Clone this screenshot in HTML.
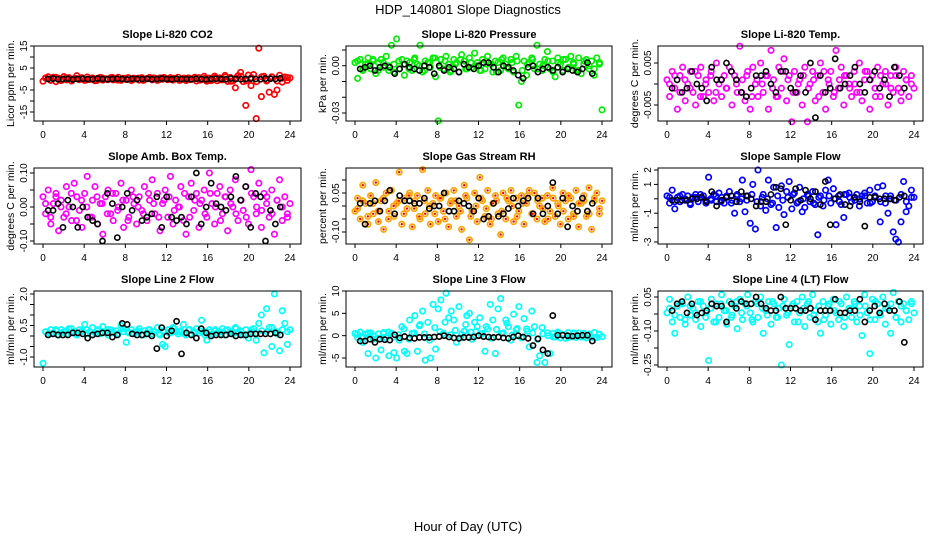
<!DOCTYPE html>
<html><head><meta charset="utf-8"><style>
html,body{margin:0;padding:0;background:#fff;}
svg{display:block;font-family:"Liberation Sans",sans-serif;}
</style></head><body>
<svg id="chart" width="936" height="540" viewBox="0 0 936 540" xmlns="http://www.w3.org/2000/svg">
<text x="468" y="14" text-anchor="middle" font-size="13">HDP_140801  Slope Diagnostics</text>
<text x="468" y="531" text-anchor="middle" font-size="13">Hour of Day (UTC)</text>
</svg>
<script>
const hourTicks=[0,4,8,12,16,20,24];
const co2Color=[-1,0.5,1,-0.5,0.8,-1.2,0.3,-0.7,1.1,-0.4,0.6,-0.9,0.2,1.5,-0.3,0.4,-0.6,0.9,-0.2,0.5,-0.8,0.3,0.7,-0.5,0.1,-0.3,0.6,-0.4,0.2,0.8,-0.6,0.3,-0.2,0.5,-0.7,0.4,0.1,-0.5,0.6,-0.3,0.2,0.7,-0.4,0.3,-0.6,0.5,-0.1,0.4,-0.3,0.6,-0.5,0.2,0.8,-0.4,0.3,-0.7,0.5,-0.2,0.4,-0.9,0.6,-0.3,1.2,-1.0,0.4,-0.6,1.3,-0.8,0.5,-0.4,1.6,-1.1,0.7,-0.9,-4,1.5,3,-1.2,-12,1.8,-3,2,-18,14,-8,1.2,-0.9,-6,1,-7,-5,1.7,-1.4,0.9,-0.6,0.5];
const co2Core=[0.4,-0.6,0.8,-0.3,0.5,-0.8,0.2,0.6,-0.4,0.3,-0.7,0.5,-0.2,0.7,-0.5,0.1,0.6,-0.3,0.4,-0.6,0.2,0.5,-0.4,0.7,-0.1,0.3,-0.6,0.4,-0.2,0.8,-0.5,0.3,-0.7,0.6,-0.3,0.9,-1.0,0.5,1.2,-0.8,0.6,-1.2,1.0,-0.5,0.8,-0.9,0.4,0.6];
const co2Black=[0,0.2,-0.1,0,0.1,-0.2,0,0.1,0,-0.1,0.2,0,-0.1,0,0.1,0,-0.2,0.1,0,0,0.1,-0.1,0,0.2,0,-0.1,0.1,0,0,-0.1,0.1,0,-0.2,0,0.1,0,-0.1,0.2,0,-0.1,0,0.1,0,-0.1,0.2,0.1,0,0.3];
const presColor=[0.002,-0.008,0.004,-0.003,0.001,0.005,-0.002,0.003,-0.005,0.002,0.004,-0.001,0.006,-0.003,0.013,0.001,0.017,-0.002,0.004,-0.006,0.003,0.002,-0.003,0.005,0.001,0.013,-0.004,0.003,0.002,-0.001,0.005,-0.007,-0.035,0.004,-0.002,0.006,0.001,-0.003,0.004,0.002,-0.004,0.007,0.003,-0.002,0.005,-0.001,0.008,0.002,-0.003,0.004,-0.002,0.006,0.001,-0.004,0.003,0.002,-0.003,0.005,0.001,-0.002,0.004,-0.004,0.006,-0.025,-0.01,0.003,-0.006,0.002,0.005,-0.002,0.013,0.001,-0.003,0.004,0.009,-0.002,0.003,-0.007,0.005,0.001,-0.003,0.004,-0.002,0.006,0.002,-0.003,0.005,-0.005,0.001,0.004,-0.002,0.003,-0.006,0.005,0.001,-0.028];
const presCore=[0.003,-0.002,0.001,0.004,-0.003,0.002,0.000,-0.004,0.003,0.001,-0.002,0.004,0.000,-0.003,0.002,0.005,-0.001,0.003,-0.004,0.001,0.004,-0.002,0.002,0.000,-0.003,0.003,0.001,-0.004,0.004,-0.001,0.002,0.003,-0.003,0.001,0.004,-0.002,0.000,0.003,-0.004,0.002,0.004,-0.001,0.001,-0.003,0.003,0.000,-0.002,0.002];
const presBlack=[-0.002,-0.001,0.000,-0.003,-0.001,0.000,-0.001,-0.005,-0.002,0.001,-0.001,-0.002,-0.003,0.000,-0.001,-0.005,0.000,-0.003,-0.001,-0.002,-0.004,0.001,-0.001,-0.002,0.000,0.002,0.002,-0.001,-0.004,0.000,-0.001,-0.003,-0.006,-0.008,-0.001,0.000,-0.004,-0.002,-0.001,-0.003,-0.001,-0.004,-0.002,-0.003,-0.004,-0.002,0.002,-0.005];
const tempColor=[0.001,-0.003,0.003,-0.001,-0.006,0.002,0.004,-0.004,0.000,0.003,-0.002,-0.005,0.002,0.004,-0.003,0.001,-0.002,0.003,-0.004,0.005,0.000,-0.003,0.002,-0.001,0.004,-0.005,0.002,-0.002,0.009,0.001,-0.004,0.003,-0.006,0.004,0.000,-0.003,0.005,-0.002,0.002,-0.006,0.008,0.001,-0.003,0.004,-0.001,0.006,-0.004,0.002,-0.009,0.003,-0.002,0.001,-0.005,0.004,-0.009,0.000,0.003,-0.004,0.002,0.005,-0.002,-0.006,0.001,0.003,-0.003,0.008,-0.001,0.004,-0.005,0.002,0.000,-0.003,0.003,-0.002,0.005,-0.004,0.001,0.003,-0.006,0.002,-0.001,0.004,-0.003,0.000,0.003,-0.005,0.002,-0.002,0.004,-0.001,-0.004,0.003,0.001,-0.003,0.002,-0.001];
const tempCore=[0.000,0.002,-0.002,0.001,-0.001,0.003,-0.003,0.000,0.002,-0.002,0.001,-0.001,0.003,0.000,-0.002,0.002,-0.003,0.001,0.000,0.002,-0.001,-0.003,0.003,0.001,-0.002,0.000,0.002,-0.001,0.001,-0.003,0.003,0.000,-0.002,0.001,0.002,-0.001,0.000,-0.002,0.003,0.001,-0.003,0.002,0.000,-0.001,0.002,-0.002,0.001,0.000];
const tempBlack=[-0.001,0.001,-0.002,-0.001,0.003,0.000,-0.001,-0.004,0.004,0.001,0.001,0.005,0.003,0.001,-0.002,-0.003,-0.001,0.002,0.002,0.003,0.000,-0.002,0.003,0.003,-0.001,-0.002,0.002,-0.002,0.005,-0.008,0.002,-0.002,-0.001,0.006,-0.001,0.000,0.002,0.004,0.000,-0.002,0.001,0.003,-0.001,0.001,-0.003,0.004,0.002,-0.001];
const ambColor=[0.03,-0.02,0.05,-0.05,0.01,0.04,-0.07,0.02,-0.03,0.06,0.00,-0.04,0.07,0.03,-0.01,-0.06,0.04,0.09,-0.03,0.02,0.06,-0.05,0.01,-0.08,0.03,0.05,-0.02,-0.04,0.04,0.00,0.07,-0.06,0.02,-0.03,0.05,0.01,-0.05,0.03,-0.01,0.06,-0.04,0.02,0.08,-0.02,0.04,-0.07,0.01,0.05,-0.03,0.09,-0.05,0.02,0.00,0.06,-0.04,-0.08,0.03,0.07,-0.01,0.04,-0.06,0.02,0.05,-0.03,0.10,0.01,-0.05,0.04,0.06,-0.02,0.03,-0.07,0.05,0.00,0.08,-0.04,0.02,-0.01,0.06,-0.05,0.11,0.03,-0.02,0.07,-0.06,0.04,0.01,-0.03,0.05,-0.08,0.02,0.08,-0.04,0.03,-0.02,0.01];
const ambCore=[0.01,-0.03,0.03,0.00,-0.02,0.04,-0.04,0.02,0.00,-0.03,0.03,0.01,-0.02,0.04,-0.01,0.02,-0.04,0.03,0.00,-0.02,0.04,0.01,-0.03,0.02,0.03,-0.01,0.00,0.04,-0.03,0.02,0.01,-0.02,0.04,0.00,-0.04,0.03,0.01,-0.02,0.02,-0.03,0.04,0.00,-0.01,0.03,-0.02,0.02,0.00,-0.03];
const ambBlack=[-0.01,-0.01,0.01,-0.06,0.02,0.00,-0.06,0.00,-0.03,-0.04,-0.05,-0.10,0.04,0.01,-0.09,0.00,0.04,-0.01,0.02,-0.04,-0.03,-0.02,0.03,-0.06,0.03,-0.03,-0.04,-0.03,-0.05,0.03,0.10,-0.05,0.00,0.07,0.01,0.00,-0.01,0.03,0.09,0.02,0.06,-0.06,0.04,0.03,-0.10,-0.01,-0.05,0.00];
const rhColor=[-0.02,0.03,-0.05,0.08,0.01,-0.07,0.04,-0.03,0.09,-0.06,0.02,-0.09,0.05,-0.02,0.06,-0.04,0.01,0.13,-0.07,0.03,-0.01,0.05,-0.08,0.02,0.04,-0.05,0.14,-0.03,0.06,-0.07,0.01,0.04,-0.06,0.03,-0.02,0.05,-0.08,0.02,0.06,-0.04,0.00,-0.09,0.08,0.03,-0.13,-0.02,0.05,-0.06,0.11,0.02,-0.04,0.06,-0.07,0.01,0.04,-0.03,-0.11,0.05,-0.05,0.02,0.06,-0.06,0.03,-0.02,0.04,-0.07,0.01,0.06,-0.03,0.05,-0.05,0.00,0.03,-0.06,0.04,-0.02,0.07,-0.04,0.01,-0.07,0.05,0.02,-0.05,0.03,-0.03,0.06,-0.08,0.01,0.04,-0.04,0.07,-0.09,0.02,0.05,-0.03,0.02];
const rhCore=[-0.01,0.02,-0.04,0.01,-0.02,0.03,-0.05,0.00,0.02,-0.03,0.04,-0.01,-0.04,0.02,0.00,-0.03,0.03,-0.05,0.01,0.02,-0.02,0.04,-0.04,0.00,0.03,-0.01,-0.05,0.02,-0.02,0.03,0.00,-0.04,0.01,0.04,-0.03,0.02,-0.01,-0.05,0.03,0.00,-0.02,0.04,-0.04,0.01,0.02,-0.03,0.03,-0.01];
const rhBlack=[0.01,-0.07,0.01,0.02,-0.02,0.02,0.06,-0.03,0.04,0.02,0.02,0.01,0.01,0.03,-0.01,0.00,0.00,0.05,-0.02,-0.02,0.02,0.01,0.00,-0.02,0.03,-0.05,-0.04,0.01,-0.04,-0.03,-0.01,0.03,0.00,0.02,0.03,-0.03,0.03,-0.03,0.00,0.09,-0.03,0.03,-0.08,0.00,-0.02,0.03,-0.02,0.01];
const flowColor=[0.2,-0.3,0.6,-0.7,0.1,-0.2,0.3,-0.1,0.2,-0.4,0.1,0.3,-0.2,0.1,0.2,-0.3,1.5,-0.1,0.3,-0.2,0.4,0.1,-0.3,0.2,0.5,-0.1,-1.0,0.3,-0.2,1.3,-0.9,0.2,-1.7,1.0,-2.1,2.0,-0.5,0.3,-0.8,1.3,-0.4,0.8,-2.0,-0.6,0.9,-1.1,0.5,1.2,-0.7,0.4,-0.3,0.8,-0.9,-0.6,0.3,-0.2,0.5,-0.4,-2.5,0.2,-0.5,0.6,1.3,-0.3,0.7,-1.8,0.2,-0.4,-1.3,0.3,0.4,-0.2,0.1,0.3,-0.5,0.2,0.4,-0.3,0.6,-0.2,0.2,0.8,-1.6,0.9,-0.3,-1.0,0.2,-2.3,-2.8,-3.0,-1.6,1.2,-0.9,-0.5,0.6,0.1];
const flowCore=[0.1,-0.2,0.2,0.0,-0.3,0.1,0.3,-0.1,0.0,0.2,-0.2,0.1,-0.3,0.2,0.0,-0.1,0.3,-0.2,0.1,0.0,-0.3,0.2,-0.1,0.1,0.3,-0.2,0.0,0.2,-0.3,0.1,-0.1,0.2,0.0,-0.2,0.3,0.1,-0.1,0.0,0.2,-0.3,0.1,-0.2,0.2,0.0,-0.1,0.3,-0.2,0.1];
const flowBlack=[-0.1,-0.1,-0.1,-0.1,0.0,0.0,0.1,-0.2,0.5,-0.5,-0.1,0.1,0.2,-0.2,0.5,0.2,0.0,-0.5,-0.2,-0.2,0.3,0.8,0.7,-1.8,-0.1,0.7,-0.1,0.6,0.0,0.5,-0.4,1.2,-1.8,0.0,0.3,-0.4,-0.5,0.1,-0.2,-1.9,0.1,0.1,0.0,0.0,0.0,-0.1,0.1,0.2];
const line2Color=[-1.3,0.2,0.1,0.3,0.15,0.25,0.05,0.3,0.2,0.1,0.35,0.15,0.2,0.05,0.3,0.25,0.55,0.1,0.2,0.4,0.15,0.3,0.1,0.45,0.2,0.05,0.3,0.15,0.25,0.1,0.5,0.2,-0.3,0.15,0.3,0.1,0.2,0.35,0.05,0.25,0.15,0.3,0.1,0.2,0.4,0.05,-0.4,-0.5,0.3,0.15,0.4,0.2,0.1,0.25,0.55,0.05,0.3,0.1,0.2,0.35,0.15,0.75,0.2,-0.2,0.3,0.1,0.25,0.15,0.2,0.35,0.05,0.3,0.2,0.1,0.4,0.15,0.25,0.05,0.3,-0.1,0.2,0.35,-0.2,0.6,1.0,-0.8,1.3,0.4,-0.5,2.0,0.2,-0.7,1.2,0.6,-0.4,0.3];
const line2Core=[0.2,0.1,0.3,0.15,0.25,0.35,0.1,0.2,0.3,0.05,0.25,0.15,0.3,0.2,0.1,0.35,0.2,0.15,0.25,0.05,0.3,0.2,0.1,0.25,0.15,0.35,0.2,0.1,0.3,0.15,0.25,0.05,0.2,0.3,0.1,0.25,0.15,0.35,0.2,0.05,0.3,0.1,0.25,0.2,0.4,0.1,0.3,0.2];
const line2Black=[0.05,0.1,0.05,0.05,0.05,0.15,0.15,0.1,-0.1,0.05,0.1,0.15,0.15,-0.05,0.05,0.6,0.55,0.1,0.05,0.05,0.1,0.0,-0.6,0.4,0.0,0.25,0.7,-0.85,0.15,0.05,-0.1,0.35,0.15,0.0,0.05,0.05,0.05,0.1,0.0,0.05,0.05,0.1,0.1,0.1,0.1,0.1,0.15,0.05];
const line3Color=[0.5,-0.5,0.8,-1.5,0.3,-4,0.6,-0.8,-5,0.4,-3.2,0.7,-0.5,-4.5,0.5,-3.8,-5,-1,2,-3.5,-4,3.5,0.5,4.5,-3.5,2.5,5.5,-5.5,3,-5,7,-3,6,8,0.5,9.5,4,5.5,3.5,-1.5,6.5,0.3,1,4.5,5,-0.8,3,2,4,0.5,-3.5,1.5,7,3.5,-4,6,8.3,0.6,3.5,2,-1,4.8,1.3,6.5,-0.5,3.8,1.5,-2.5,5.5,2,-6,-4.5,1.8,-6,0.6,-4,0.5,-0.3,0.8,-0.5,0.3,-0.6,0.7,-0.2,0.4,-0.4,0.6,-0.3,0.5,-0.5,0.2,-0.3,0.7,-0.4,0.3,-0.2];
const line3Core=[0.3,-0.4,0.6,0.0,-0.6,0.5,0.8,-0.3,0.2,1.5,-0.8,0.6,2.2,0.4,-1.0,1.8,0.9,3.0,0.2,1.2,-0.5,2.5,0.8,1.0,0.3,2.0,-0.6,1.4,0.5,2.8,0.1,1.6,-0.4,1.0,0.6,-0.8,0.4,0.0,-0.3,0.5,0.2,-0.4,0.6,0.0,-0.2,0.4,-0.5,0.3];
const line3Black=[-1.2,-1.2,-0.8,-1.5,-0.8,-0.9,-1,0.2,-0.5,-0.2,-0.5,-0.6,-0.4,-0.4,-0.4,-0.3,-0.2,0.0,-0.3,-0.5,-0.6,-0.4,-0.4,-0.3,0.0,-0.2,-0.3,-0.4,-0.3,-0.5,-0.6,-0.3,0.0,-0.3,-0.6,-2.2,-0.7,-3.2,-4,4.5,0.1,0.1,0.0,-0.1,0.0,0.1,0.1,-1.2];
const line4Color=[-0.02,0.04,-0.06,-0.11,0.01,-0.04,0.02,-0.07,0.05,-0.03,0.00,-0.05,0.03,-0.08,0.01,-0.02,-0.23,0.04,-0.06,0.02,-0.04,0.06,-0.01,-0.07,0.03,-0.03,0.01,-0.09,0.04,-0.05,0.02,0.06,-0.02,-0.06,0.03,-0.04,0.05,-0.11,-0.01,0.03,-0.07,0.02,-0.04,0.00,-0.25,0.04,-0.03,-0.16,0.01,-0.06,0.03,-0.02,0.05,-0.08,0.02,-0.04,0.06,-0.01,-0.06,-0.11,0.03,-0.03,0.01,-0.07,0.04,-0.02,-0.05,0.02,-0.08,0.05,0.00,-0.04,0.03,-0.06,0.01,-0.12,0.06,-0.02,-0.20,0.04,-0.05,0.02,-0.03,0.05,-0.07,0.00,-0.11,0.07,-0.04,0.03,-0.06,0.02,-0.01,-0.05,0.03,-0.02];
const line4Core=[0.00,-0.03,0.02,-0.05,0.01,-0.02,0.03,-0.04,0.00,-0.06,0.02,-0.01,-0.04,0.03,-0.02,0.01,-0.05,0.02,0.00,-0.03,0.03,-0.04,0.01,-0.02,0.02,-0.06,0.00,0.03,-0.03,0.01,-0.05,0.02,-0.01,0.03,-0.04,0.00,0.02,-0.03,0.01,-0.05,0.03,-0.02,0.00,0.02,-0.04,0.01,-0.01,0.02];
const line4Black=[-0.01,0.02,0.03,-0.02,0.02,-0.03,-0.02,-0.01,0.02,0.01,0.01,-0.06,0.02,0.00,0.03,0.02,0.02,0.05,0.02,0.00,-0.01,-0.01,0.05,0.00,0.00,0.00,-0.01,-0.01,0.00,-0.05,-0.01,-0.01,-0.01,0.04,-0.02,-0.02,-0.01,-0.01,0.04,-0.06,-0.01,0.01,-0.02,0.02,-0.01,-0.01,0.03,-0.15];

const NS="http://www.w3.org/2000/svg";
const svg=document.getElementById('chart');
function mk(tag,attrs,parent){const e=document.createElementNS(NS,tag);for(const k in attrs)e.setAttribute(k,attrs[k]);(parent||svg).appendChild(e);return e;}

const panels=[
 {key:'co2',title:'Slope Li-820 CO2',ylab:'Licor ppm per min.',bx:[34,301],by:[46,121],h0:43,h24:290,v1:15,p1:46,v2:-15,p2:112,ticks:[15,10,5,0,-5,-10,-15],labels:{'15':'15','5':'5','-5':'-5','-15':'-15'},color:'#ff0000',col:co2Color,core:co2Core,blk:co2Black},
 {key:'pressure',title:'Slope Li-820 Pressure',ylab:'kPa per min.',bx:[346,612],by:[46,121],h0:355,h24:602,v1:0.01,p1:50,v2:-0.03,p2:113,ticks:[0.01,0,-0.01,-0.02,-0.03],labels:{'0':'0.00','-0.03':'-0.03'},color:'#00ee00',col:presColor,core:presCore,blk:presBlack},
 {key:'li820-temp',title:'Slope Li-820 Temp.',ylab:'degrees C  per min.',bx:[658,923],by:[46,121],h0:667,h24:914,v1:0.005,p1:63,v2:-0.005,p2:105,ticks:[0.005,0,-0.005],labels:{'0.005':'0.005','-0.005':'-0.005'},color:'#ff00ff',col:tempColor,core:tempCore,blk:tempBlack},
 {key:'amb-temp',title:'Slope Amb. Box Temp.',ylab:'degrees C per min.',bx:[34,301],by:[168,244],h0:43,h24:290,v1:0.1,p1:173,v2:-0.1,p2:241,ticks:[0.1,0.05,0,-0.05,-0.1],labels:{'0.1':'0.10','0':'0.00','-0.1':'-0.10'},color:'#ff00ff',col:ambColor,core:ambCore,blk:ambBlack},
 {key:'rh',title:'Slope Gas Stream RH',ylab:'percent per min.',bx:[346,612],by:[168,244],h0:355,h24:602,v1:0.05,p1:193,v2:-0.1,p2:232,ticks:[0.1,0.05,0,-0.05,-0.1],labels:{'0.05':'0.05','-0.1':'-0.10'},color:'#ffa500',inner:'#ff0000',col:rhColor,core:rhCore,blk:rhBlack},
 {key:'sample-flow',title:'Slope Sample Flow',ylab:'ml/min per min.',bx:[658,923],by:[168,244],h0:667,h24:914,v1:2,p1:170,v2:-3,p2:242,ticks:[2,1,0,-1,-2,-3],labels:{'2':'2','1':'1','-1':'-1','-3':'-3'},color:'#0000ff',col:flowColor,core:flowCore,blk:flowBlack},
 {key:'line2-flow',title:'Slope Line 2 Flow',ylab:'ml/min per min.',bx:[34,301],by:[291,367],h0:43,h24:290,v1:2,p1:294,v2:-1,p2:357,ticks:[2,1.5,1,0.5,0,-0.5,-1],labels:{'2':'2.0','0.5':'0.5','-1':'-1.0'},color:'#00ffff',col:line2Color,core:line2Core,blk:line2Black},
 {key:'line3-flow',title:'Slope Line 3 Flow',ylab:'ml/min per min.',bx:[346,612],by:[291,367],h0:355,h24:602,v1:10,p1:291,v2:-5,p2:358,ticks:[10,5,0,-5],labels:{'10':'10','5':'5','0':'0','-5':'-5'},color:'#00ffff',col:line3Color,core:line3Core,blk:line3Black},
 {key:'line4-flow',title:'Slope Line 4 (LT) Flow',ylab:'ml/min per min.',bx:[658,923],by:[291,367],h0:667,h24:914,v1:0.05,p1:297,v2:-0.25,p2:365,ticks:[0.05,-0.025,-0.1,-0.175,-0.25],labels:{'0.05':'0.05','-0.1':'-0.10','-0.25':'-0.25'},color:'#00ffff',col:line4Color,core:line4Core,blk:line4Black}
];

panels.forEach(p=>{
  const g=mk('g',{});
  
  
  const xs=h=>p.h0+(p.h24-p.h0)*h/24;
  const ys=v=>p.p1+(p.p2-p.p1)*(v-p.v1)/(p.v2-p.v1);
  const cx=(p.bx[0]+p.bx[1])/2;
  const t=mk('text',{x:cx,y:p.by[0]-8,'text-anchor':'middle','font-size':11,'font-weight':'bold'},g);
  t.textContent=p.title;
  
  
  const cg=mk('g',{fill:'none',stroke:p.color,'stroke-width':1.7},g);
  
  
  const pts=[];
  const n=p.col.length;
  p.col.forEach((v,i)=>pts.push([24*i/(n-1),v]));
  const m=p.core.length;
  p.core.forEach((v,i)=>pts.push([24*(i+0.5)/m,v]));
  pts.forEach(([h,v])=>{
    const c=mk('circle',{cx:xs(h),cy:ys(v),r:2.7},cg);
    
    
    if(p.inner){const d=mk('circle',{cx:xs(h),cy:ys(v),r:1.2,fill:p.inner,stroke:'none'},cg);
      
      }
  });
  const bg=mk('g',{fill:'none',stroke:'#000','stroke-width':1.6},g);
  
  
  p.blk.forEach((v,i)=>{
    const c=mk('circle',{cx:xs(0.5+0.48*i),cy:ys(v),r:2.6},bg);
    
    
  });
  const b=mk('rect',{x:p.bx[0],y:p.by[0],width:p.bx[1]-p.bx[0],height:p.by[1]-p.by[0],fill:'none',stroke:'#000','stroke-width':1},g);
  
  
  const xa=mk('g',{stroke:'#000','stroke-width':1},g);
  
  
  mk('line',{x1:xs(0),x2:xs(24),y1:p.by[1],y2:p.by[1]},xa);
  hourTicks.forEach(h=>{
    mk('line',{x1:xs(h),x2:xs(h),y1:p.by[1],y2:p.by[1]+4},xa);
    const l=mk('text',{x:xs(h),y:p.by[1]+17,'text-anchor':'middle','font-size':10,stroke:'none',fill:'#000'},xa);
    l.textContent=h;
    
    
  });
  const ya=mk('g',{stroke:'#000','stroke-width':1},g);
  
  
  mk('line',{x1:p.bx[0],x2:p.bx[0],y1:ys(p.ticks[0]),y2:ys(p.ticks[p.ticks.length-1])},ya);
  p.ticks.forEach(v=>{
    mk('line',{x1:p.bx[0]-4,x2:p.bx[0],y1:ys(v),y2:ys(v)},ya);
    const s=p.labels[String(v)];
    if(s){const l=mk('text',{x:0,y:0,transform:`translate(${p.bx[0]-7},${ys(v)}) rotate(-90)`,'text-anchor':'middle','font-size':10,stroke:'none',fill:'#000'},ya);
      l.textContent=s;
      
      }
  });
  const yl=mk('text',{x:0,y:0,transform:`translate(${p.bx[0]-20},${(p.by[0]+p.by[1])/2}) rotate(-90)`,'text-anchor':'middle','font-size':10.5},g);
  yl.textContent=p.ylab;
  
  
});
</script>
</body></html>
